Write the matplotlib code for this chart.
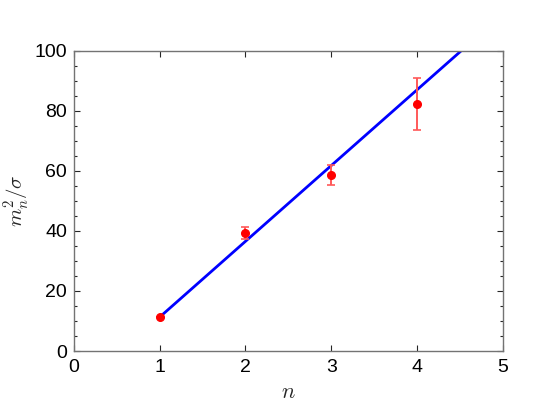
import numpy as np
import matplotlib
matplotlib.use("Agg")
import matplotlib.pyplot as plt
from matplotlib.ticker import MultipleLocator

plt.rcParams['font.family'] = ['Liberation Sans', 'DejaVu Sans']
plt.rcParams['mathtext.fontset'] = 'cm'

# measured points
n_vals = [1, 2, 3, 4]
m2_vals = [11.3, 39.2, 58.6, 82.1]
m2_err = [0.0, 2.0, 3.4, 8.6]

# linear fit, clipped at top of axes
fit_n = [1.0, 4.52]
fit_m2 = [11.3, 100.0]

axcol = (0.15, 0.15, 0.15)

fig = plt.figure(figsize=(5.55, 4.17), dpi=100)
ax = fig.add_axes([74/555, 1 - 351/417, (502.7 - 74)/555, (351 - 50.5)/417])

ax.plot(fit_n, fit_m2, color='blue', lw=2, zorder=2)
ax.errorbar(n_vals, m2_vals, yerr=m2_err, fmt='none', ecolor=(1, 0.35, 0.35),
            elinewidth=1.4, capsize=3, capthick=1.2, zorder=3)
ax.plot(n_vals, m2_vals, 'o', color='red', ms=5.5, zorder=4)

ax.set_xlim(0, 5)
ax.set_ylim(0, 100)
ax.xaxis.set_major_locator(MultipleLocator(1))
ax.yaxis.set_major_locator(MultipleLocator(20))
ax.yaxis.set_minor_locator(MultipleLocator(5))

ax.tick_params(which='both', direction='in', top=True, right=True,
               colors=axcol, labelsize=14)
ax.tick_params(axis='x', pad=6)
ax.tick_params(axis='y', pad=5)
ax.tick_params(which='major', length=4, width=0.8)
ax.tick_params(which='minor', length=2.5, width=0.8)
for lbl in ax.get_xticklabels() + ax.get_yticklabels():
    lbl.set_color('black')
for s in ax.spines.values():
    s.set_color((0.45, 0.45, 0.45))
    s.set_linewidth(1.0)

ax.set_xlabel(r'$n$', fontsize=16, color=axcol, labelpad=4)
ax.set_ylabel(r'$m_n^2/\sigma$', fontsize=15, color=axcol)
ax.yaxis.set_label_coords(-0.098, 0.5)

fig.savefig('out.png', dpi=100)
